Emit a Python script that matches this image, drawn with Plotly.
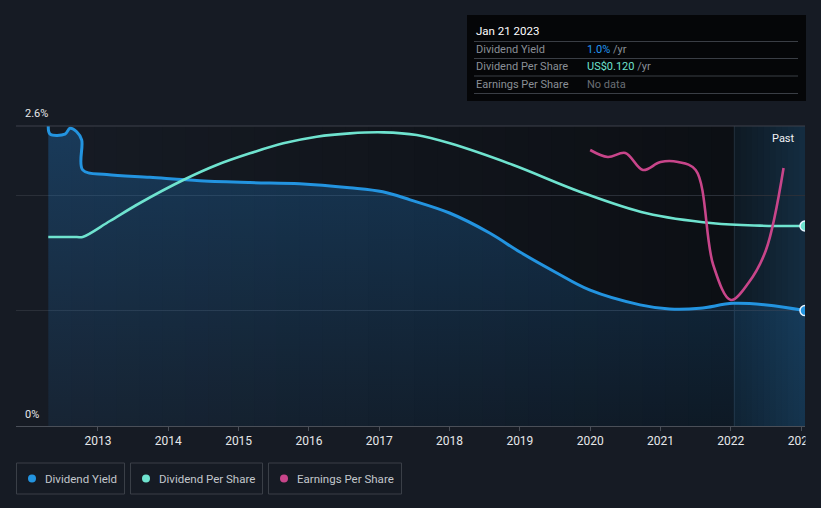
import plotly.graph_objects as go

# ---------------- data ----------------
yield_years = [2012.293, 2012.318, 2012.531, 2012.602, 2012.697, 2012.768, 2012.782, 2013.124,
               2013.739, 2014.45, 2015.16, 2015.87, 2016.58, 2017.05, 2017.44, 2018.0, 2018.57,
               2019.0, 2019.5, 2019.99, 2020.71, 2021.13, 2021.56, 2022.03, 2022.51, 2023.055]
yield_vals = [2.60, 2.53, 2.53, 2.58, 2.55, 2.48, 2.22, 2.18,
              2.155, 2.126, 2.11, 2.10, 2.065, 2.03, 1.96, 1.846, 1.673,
              1.508, 1.335, 1.179, 1.05, 1.014, 1.02, 1.063, 1.049, 1.0]

dps_years = [2012.293, 2012.70, 2012.782, 2013.17, 2013.597, 2014.213, 2014.688, 2015.161,
             2015.635, 2016.110, 2016.583, 2017.057, 2017.532, 2018.005, 2018.905, 2019.853,
             2020.802, 2021.749, 2022.413, 2023.055]
dps_vals = [0.1134, 0.1134, 0.1134, 0.123, 0.1338, 0.1476, 0.1566, 0.1636,
            0.1696, 0.1736, 0.1756, 0.1762, 0.1746, 0.1696, 0.1566, 0.1406,
            0.1276, 0.1216, 0.1202, 0.120]

eps_years = [2020.0, 2020.25, 2020.5, 2020.75, 2021.0, 2021.25, 2021.5, 2021.75,
             2022.0, 2022.25, 2022.5, 2022.75]
eps_vals = [0.552, 0.538, 0.546, 0.512, 0.528, 0.528, 0.512, 0.322,
            0.252, 0.286, 0.352, 0.516]

year_ticks = list(range(2013, 2024))
year_labels = [str(y) for y in year_ticks]

X0, X1 = 2011.834, 2023.055
PAST_START = 2022.05

PAPER = "#161b24"
BLUE = "#2394e0"
TEAL = "#6fe3cf"
PINK = "#c8458a"

W, H = 821, 508
ML, MR, MT, MB = 16, 16, 126, 82
PW, PH = W - ML - MR, H - MT - MB


def px(x):
    return (x - ML) / PW


def py(y):
    return (MT + PH - y) / PH


fig = go.Figure()

fig.add_trace(go.Scatter(
    x=yield_years, y=yield_vals, mode="lines", name="Dividend Yield",
    line=dict(color=BLUE, width=3, shape="spline", smoothing=1.0),
    fill="tozeroy",
    fillgradient=dict(type="vertical",
                      colorscale=[[0, "rgba(33,140,230,0.08)"], [1, "rgba(33,140,230,0.28)"]]),
    hoverinfo="skip", showlegend=False))

fig.add_trace(go.Scatter(
    x=dps_years, y=dps_vals, mode="lines", name="Dividend Per Share", yaxis="y2",
    line=dict(color=TEAL, width=2.6, shape="spline", smoothing=1.0),
    hoverinfo="skip", showlegend=False))

fig.add_trace(go.Scatter(
    x=eps_years, y=eps_vals, mode="lines", name="Earnings Per Share", yaxis="y3",
    line=dict(color=PINK, width=2.6, shape="spline", smoothing=1.0),
    hoverinfo="skip", showlegend=False))

fig.add_trace(go.Scatter(
    x=[dps_years[-1]], y=[dps_vals[-1]], yaxis="y2", mode="markers",
    marker=dict(color=TEAL, size=10, line=dict(color="#e8f4ff", width=1.5)),
    hoverinfo="skip", showlegend=False))
fig.add_trace(go.Scatter(
    x=[yield_years[-1]], y=[yield_vals[-1]], mode="markers",
    marker=dict(color=BLUE, size=10, line=dict(color="#e8f4ff", width=1.5)),
    hoverinfo="skip", showlegend=False))

shapes = []
# plot background gradient (overlapping strips to avoid seams)
n = 30
c0 = (22, 27, 36)
c1 = (12, 15, 20)
xs0 = yield_years[0]
step = (PAST_START - xs0) / n
for i in range(n):
    a = xs0 + step * i
    b = min(xs0 + step * (i + 1.6), PAST_START)
    t = (i + 0.5) / n
    c = tuple(round(c0[k] + (c1[k] - c0[k]) * t) for k in range(3))
    shapes.append(dict(type="rect", xref="x", yref="paper", x0=a, x1=b, y0=0, y1=1,
                       fillcolor="rgb(%d,%d,%d)" % c, line=dict(width=0), layer="below"))
# past region gradient
m = 12
pstep = (X1 - PAST_START) / m
for i in range(m):
    a = PAST_START + pstep * i
    b = min(PAST_START + pstep * (i + 1.6), X1)
    t = (i + 0.5) / m
    c = (round(14 + 6 * t), round(25 + 20 * t), round(35 + 30 * t))
    shapes.append(dict(type="rect", xref="x", yref="paper", x0=a, x1=b, y0=0, y1=1,
                       fillcolor="rgb(%d,%d,%d)" % c, line=dict(width=0), layer="below"))
shapes.append(dict(type="line", xref="x", yref="paper", x0=PAST_START, x1=PAST_START, y0=0, y1=1,
                   line=dict(color="#22303d", width=1), layer="below"))
shapes.append(dict(type="line", xref="paper", yref="paper", x0=0, x1=1, y0=1, y1=1,
                   line=dict(color="#3c414a", width=1), layer="above"))
shapes.append(dict(type="rect", xref="paper", yref="paper", x0=px(805.5), x1=px(W),
                   y0=py(450), y1=py(428), fillcolor=PAPER, line=dict(width=0), layer="above"))

# tooltip panel
shapes.append(dict(type="rect", xref="paper", yref="paper", x0=px(467), x1=px(806),
                   y0=py(101), y1=py(15), fillcolor="#050608", line=dict(width=0), layer="above"))
for yy in [41.5, 58.5, 76, 93.5]:
    shapes.append(dict(type="line", xref="paper", yref="paper", x0=px(474), x1=px(798),
                       y0=py(yy), y1=py(yy), line=dict(color="#3a3e45", width=1), layer="above"))

legend_items = [("Dividend Yield", BLUE, 16, 125),
                ("Dividend Per Share", TEAL, 130, 263),
                ("Earnings Per Share", PINK, 268, 402)]
annotations = []
for label, col, bx0, bx1 in legend_items:
    shapes.append(dict(type="rect", xref="paper", yref="paper", x0=px(bx0 + 0.5), x1=px(bx1 - 0.5),
                       y0=py(494), y1=py(463), fillcolor="rgba(0,0,0,0)",
                       line=dict(color="#3a3f47", width=1), layer="above"))
    shapes.append(dict(type="circle", xref="paper", yref="paper", x0=px(bx0 + 12), x1=px(bx0 + 20),
                       y0=py(482.5), y1=py(474.5), fillcolor=col, line=dict(width=0), layer="above"))
    annotations.append(dict(xref="paper", yref="paper", x=px(bx0 + 27), y=py(478.5),
                            xanchor="left", yanchor="middle", showarrow=False, text=label,
                            font=dict(size=11.5, color="#c3c7cc")))

annotations.append(dict(xref="paper", yref="paper", x=px(23), y=py(114), xanchor="left",
                        yanchor="middle", showarrow=False, text="2.6%",
                        font=dict(size=11, color="#e6e8ea")))
annotations.append(dict(xref="paper", yref="paper", x=px(23), y=py(414), xanchor="left",
                        yanchor="middle", showarrow=False, text="0%",
                        font=dict(size=11, color="#e6e8ea")))
annotations.append(dict(xref="paper", yref="paper", x=px(797), y=py(138), xanchor="right",
                        yanchor="middle", showarrow=False, text="Past",
                        font=dict(size=11, color="#f0f2f4")))

annotations.append(dict(xref="paper", yref="paper", x=px(474), y=py(31), xanchor="left",
                        yanchor="middle", showarrow=False, text="Jan 21 2023",
                        font=dict(size=11.5, color="#ffffff")))
rows = [("Dividend Yield", "<span style='color:#2196f3'>1.0%</span> /yr", 49),
        ("Dividend Per Share", "<span style='color:%s'>US$0.120</span> /yr" % TEAL, 67),
        ("Earnings Per Share", "<span style='color:#6a6e75'>No data</span>", 85)]
for lab, val, yy in rows:
    annotations.append(dict(xref="paper", yref="paper", x=px(474), y=py(yy), xanchor="left",
                            yanchor="middle", showarrow=False, text=lab,
                            font=dict(size=11, color="#8a8f96")))
    annotations.append(dict(xref="paper", yref="paper", x=px(585), y=py(yy), xanchor="left",
                            yanchor="middle", showarrow=False, text=val,
                            font=dict(size=11, color="#8a8f96")))

fig.update_layout(
    width=W, height=H, autosize=False,
    margin=dict(l=ML, r=MR, t=MT, b=MB, pad=0, autoexpand=False),
    paper_bgcolor=PAPER, plot_bgcolor=PAPER,
    font=dict(family="Roboto, Open Sans, sans-serif", color="#e6e8ea"),
    showlegend=False,
    xaxis=dict(range=[X0, X1], tickvals=year_ticks, ticktext=year_labels, automargin=False,
               showgrid=False, zeroline=False, showline=True, linecolor="#4a4f58", linewidth=1,
               ticks="outside", ticklen=4, tickcolor="#4a4f58",
               tickfont=dict(size=12, color="#e6e8ea"), fixedrange=True),
    yaxis=dict(range=[0, 2.6], tickvals=[1, 2], showticklabels=False, showgrid=True, automargin=False,
               gridcolor="#2a2f38", gridwidth=1, zeroline=False, showline=False, fixedrange=True),
    yaxis2=dict(range=[0, 0.18], overlaying="y", visible=False, showgrid=False, fixedrange=True),
    yaxis3=dict(range=[0, 0.6], overlaying="y", visible=False, showgrid=False, fixedrange=True),
    shapes=shapes,
    annotations=annotations,
)

fig.write_html("out.html", config={"responsive": False, "displayModeBar": False})
